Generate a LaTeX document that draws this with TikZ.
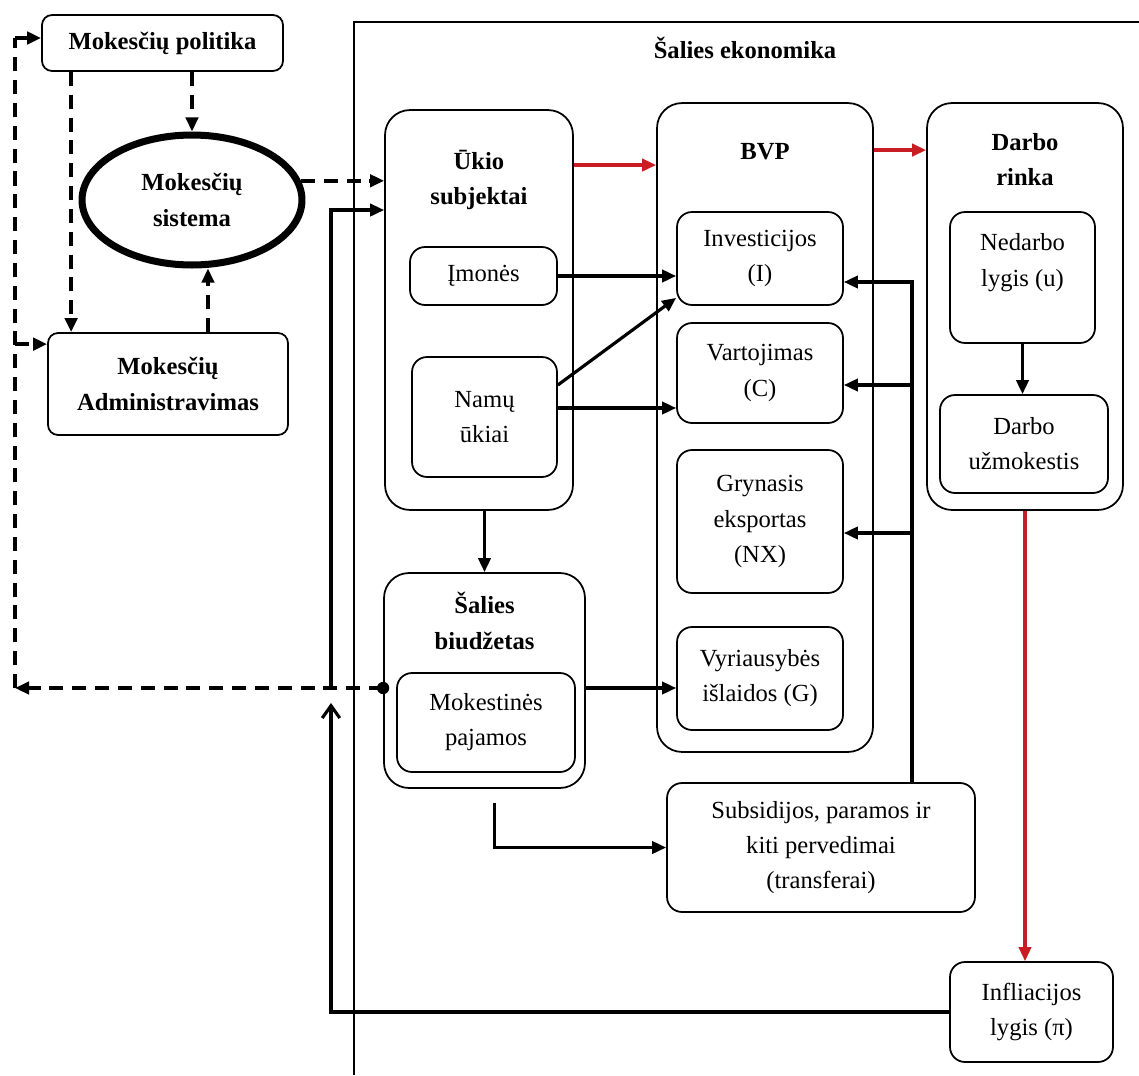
\documentclass[tikz,border=0pt]{standalone}
\usepackage{fontspec}
\setmainfont{Liberation Serif}
\usetikzlibrary{arrows.meta,shapes.geometric,positioning}
\definecolor{flowred}{RGB}{200,30,35}
\newcommand{\dfont}{\fontsize{14}{20}\selectfont}

\tikzset{
  box/.style={draw, line width=1pt, rounded corners=0.2cm, align=center, inner sep=2pt, font=\dfont},
  midbox/.style={box, rounded corners=0.3cm},
  bigbox/.style={box, rounded corners=0.5cm},
  head/.style={align=center, font=\dfont\bfseries},
  arr/.style={line width=1.8pt, -{Triangle[length=8pt,width=7pt]}},
  redarr/.style={arr, flowred},
  dashline/.style={line width=2pt, dash pattern=on 8pt off 5pt},
  dasharr/.style={dashline, -{Triangle[length=8pt,width=7pt]}},
}

\begin{document}
\begin{tikzpicture}[x=0.02cm, y=-0.02cm]
	 \useasboundingbox (0,0) rectangle (1139,1075);
	 \draw[line width=0.8pt] (354,1075) -- (354,22) -- (1139,22);
	 \node[head] (ekon) at (745,48) {Šalies ekonomika};

	 % tax side
	 \node[box, font=\dfont\bfseries, minimum width=4.82cm, minimum height=1.12cm] (politika) at (162.5,43) {Mokesčių politika};
	 \node[ellipse, draw, line width=4pt, minimum width=4.4cm, minimum height=2.6cm, align=center, font=\dfont\bfseries] (sistema) at (192,200) {Mokesčių\\sistema};
	 \node[box, font=\dfont\bfseries, minimum width=4.8cm, minimum height=2.04cm] (admin) at (168,384) {Mokesčių\\Administravimas};

	 % economy
	 \node[bigbox, minimum width=3.76cm, minimum height=8cm] (ukio) at (479,310) {};
	 \node[head] (ukioT) at (479,180) {Ūkio\\subjektai};
	 \node[midbox, minimum width=2.94cm, minimum height=1.16cm] (imones) at (483.5,276) {Įmonės};
	 \node[midbox, minimum width=2.9cm, minimum height=2.4cm] (namu) at (484.5,417) {Namų\\ūkiai};

	 \node[bigbox, minimum width=4.32cm, minimum height=12.98cm] (bvp) at (765,427.5) {};
	 \node[head] (bvpT) at (765,152) {BVP};
	 \node[midbox, minimum width=3.32cm, minimum height=1.86cm] (inv) at (760,258.5) {Investicijos\\(I)};
	 \node[midbox, minimum width=3.32cm, minimum height=2cm] (var) at (760,373) {Vartojimas\\(C)};
	 \node[midbox, minimum width=3.32cm, minimum height=2.86cm] (nx) at (760,521.5) {Grynasis\\eksportas\\(NX)};
	 \node[midbox, minimum width=3.32cm, minimum height=2.06cm] (vyr) at (760,678.5) {Vyriausybės\\išlaidos (G)};

	 \node[bigbox, minimum width=3.92cm, minimum height=8.14cm] (darbo) at (1025,306.5) {};
	 \node[head] (darboT) at (1025,160) {Darbo\\rinka};
	 \node[midbox, minimum width=2.9cm, minimum height=2.62cm] (nedarbo) at (1022.5,277.5) {Nedarbo\\lygis (u)\\\mbox{}};
	 \node[midbox, minimum width=3.36cm, minimum height=1.96cm] (uzmok) at (1024,444) {Darbo\\užmokestis};

	 \node[bigbox, minimum width=4.02cm, minimum height=4.3cm] (budz) at (484.5,680.5) {};
	 \node[head] (budzT) at (484.5,621) {Šalies\\biudžetas};
	 \node[midbox, minimum width=3.56cm, minimum height=1.98cm] (mokpaj) at (486,722.5) {Mokestinės\\pajamos};

	 \node[midbox, minimum width=6.16cm, minimum height=2.58cm] (subs) at (821,847.5) {Subsidijos, paramos ir\\kiti pervedimai\\(transferai)};
	 \node[midbox, minimum width=3.26cm, minimum height=2cm] (inflia) at (1031.5,1012) {Infliacijos\\lygis (π)};

	 \coordinate (jn) at (331,688);
	 \coordinate (lb) at (15,688);
	 \coordinate (lt) at (15,38);
	 \coordinate (fb) at (331,703);
	 \coordinate (aw) at ([yshift=-0.24cm]admin.north west);
	 \coordinate (sb) at ([xshift=1.82cm]subs.north);

	 % dashed feedback
	 \draw[dashline] (lb) -- (lt);
	 \draw[dasharr] (budz.west |- jn) -- (lb);
	 \draw[dasharr] (lt) -- (lt -| politika.west);
	 \draw[dasharr] (lt |- aw) -- (aw);
	 \fill (budz.west |- jn) circle (3.5pt);
	 \draw[dasharr] (sistema.north |- politika.south) -- (sistema.north);
	 \draw[dasharr] ([xshift=0.6cm]politika.south west) -- ([xshift=0.6cm]politika.south west |- admin.north);
	 \draw[dasharr] ([xshift=0.8cm]admin.north) -- ([xshift=0.8cm]admin.north |- sistema.south);
	 \draw[dasharr] (sistema.10) -- (sistema.10 -| ukio.west);

	 \draw[arr] (jn) |- ([yshift=2cm]ukio.west);
	 \draw[line width=1.8pt, -{Straight Barb[length=7pt,width=10pt]}] (inflia.west) -| (fb);

	 % red flow
	 \draw[redarr] ([yshift=2.9cm]ukio.east) -- ([yshift=2.9cm]ukio.east -| bvp.west);
	 \draw[redarr] ([yshift=5.55cm]bvp.east) -- ([yshift=5.55cm]bvp.east -| darbo.west);
	 \draw[redarr] (darbo.south) -- (darbo.south |- inflia.north);

	 \draw[arr] (imones.east) -- (imones.east -| inv.west);
	 \draw[arr] ([yshift=0.64cm]namu.east) -- ([yshift=0.16cm]inv.south west);
	 \draw[arr] ([yshift=0.18cm]namu.east) -- ([yshift=0.18cm]namu.east -| var.west);
	 \draw[arr] (budz.north |- ukio.south) -- (budz.north);
	 \draw[arr] (budz.east |- jn) -- (vyr.west |- jn);
	 \draw[arr] ([xshift=0.2cm,yshift=-0.28cm]budz.south) |- (subs.west);
	 \draw[arr] (nedarbo.south) -- (nedarbo.south |- uzmok.north);
	 \foreach \n/\s in {inv/-0.47, var/-0.24, nx/-0.23}
	 \draw[arr] (sb) |- ([yshift=\s cm]\n.east);
\end{tikzpicture}
\end{document}
